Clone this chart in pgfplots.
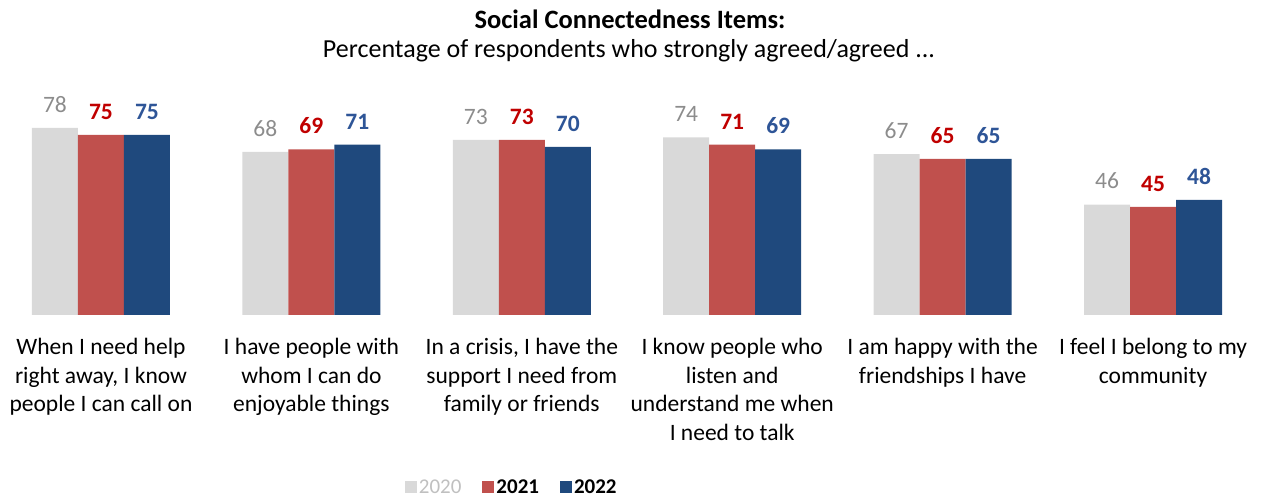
\documentclass[border=0pt]{standalone}
\usepackage{pgfplots}
\pgfplotsset{compat=1.18}
\usepackage{fontspec}
\setmainfont{Carlito}
\definecolor{c20}{HTML}{D9D9D9}
\definecolor{c21}{HTML}{C0504D}
\definecolor{c22}{HTML}{1F497D}
\definecolor{t20}{HTML}{8C8C8C}
\definecolor{t21}{HTML}{C00000}
\definecolor{t22}{HTML}{2E5597}
\begin{document}
\begin{tikzpicture}[x=1pt,y=1pt]
\useasboundingbox (0,0) rectangle (1262,500);
\begin{axis}[
  at={(0pt,185pt)}, anchor=south west,
  scale only axis, width=1262pt, height=240pt,
  xmin=-0.48, xmax=5.518, ymin=0, ymax=100,
  ybar=0pt, bar width=46pt,
  /pgf/number format/assume math mode=true,
  hide y axis, axis x line*=bottom, x axis line style={draw=none},
  xtick={0,...,5}, major tick length=0pt,
  xticklabels={{When I need help\\right away, I know\\people I can call on},
               {I have people with\\whom I can do\\enjoyable things},
               {In a crisis, I have the\\support I need from\\family or friends},
               {I know people who\\listen and\\understand me when\\I need to talk},
               {I am happy with the\\friendships I have},
               {I feel I belong to my\\community}},
  xticklabel style={align=center, font=\fontsize{23.5}{28.5}\selectfont, anchor=north, yshift=-20pt},
  nodes near coords, nodes near coords align={vertical},
  legend columns=3,
  legend style={draw=none, at={(0.4055,-0.72)}, anchor=center, font=\fontsize{21}{23}\selectfont,
    nodes={inner xsep=2pt},
    /tikz/every even column/.append style={column sep=19pt}},
  legend image code/.code={\fill[#1] (0pt,-5pt) rectangle (12pt,7pt);},
]
\addplot[fill=c20, draw=none, every node near coord/.append style={text=t20, yshift=12pt, font=\fontsize{23.5}{25}\selectfont}]
  coordinates {(0,78) (1,68) (2,73) (3,74) (4,67) (5,46)};
\addplot[fill=c21, draw=none, every node near coord/.append style={text=t21, yshift=12pt, font=\fontsize{23.5}{25}\selectfont\bfseries}]
  coordinates {(0,75) (1,69) (2,73) (3,71) (4,65) (5,45)};
\addplot[fill=c22, draw=none, every node near coord/.append style={text=t22, yshift=12pt, font=\fontsize{23.5}{25}\selectfont\bfseries}]
  coordinates {(0,75) (1,71) (2,70) (3,69) (4,65) (5,48)};
\legend{\textcolor{t20!55}{2020}, \textbf{2021}, \textbf{2022}}
\end{axis}
\node[font=\fontsize{26.5}{28}\selectfont\bfseries] at (630,481) {Social Connectedness Items:};
\node[font=\fontsize{26}{28}\selectfont] at (629,449) {Percentage of respondents who strongly agreed/agreed ...};
\end{tikzpicture}
\end{document}
